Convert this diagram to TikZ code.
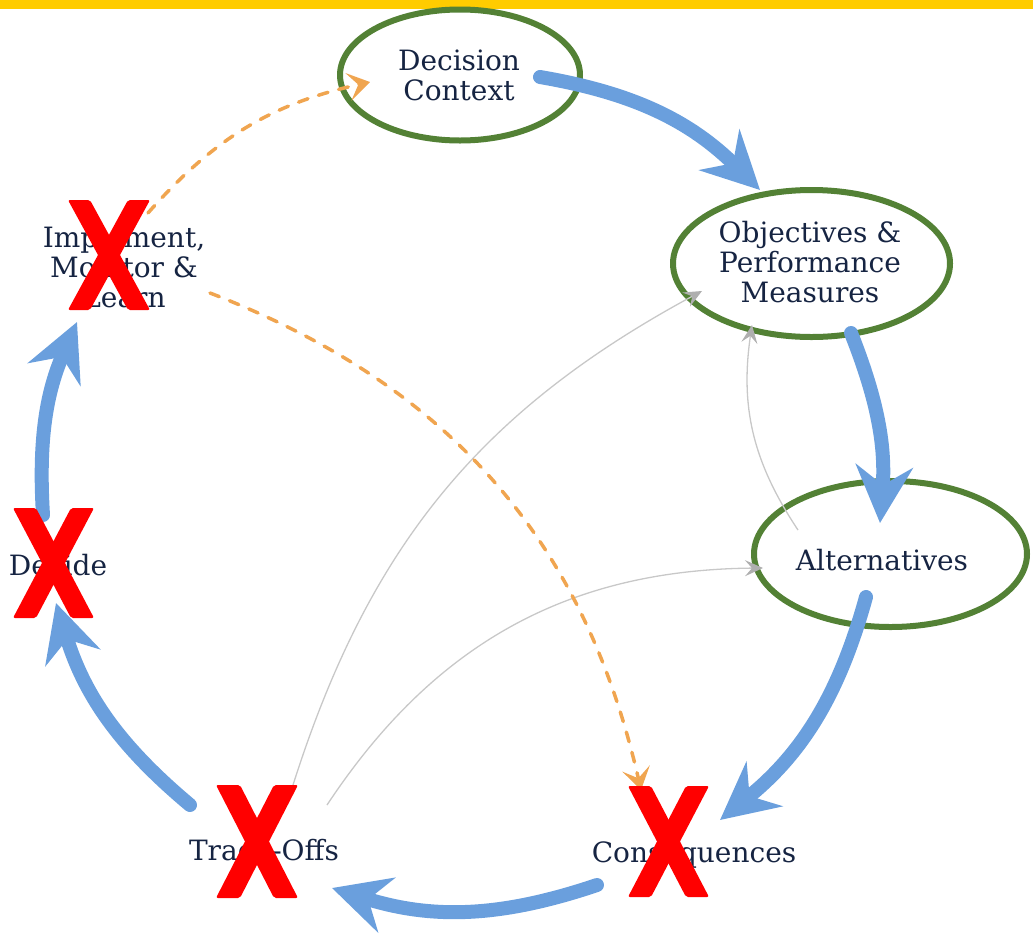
\documentclass[tikz,border=0pt]{standalone}
\usepackage{fontspec}
\setmainfont{DejaVu Serif}
\usetikzlibrary{arrows.meta,shapes.geometric}
\definecolor{blu}{RGB}{106,159,221}
\definecolor{grn}{RGB}{83,129,53}
\definecolor{org}{RGB}{240,165,80}
\definecolor{gry}{RGB}{200,200,200}
\definecolor{gryhead}{RGB}{175,175,175}
\definecolor{navy}{RGB}{22,36,66}
\definecolor{xred}{RGB}{255,0,0}
\definecolor{ylw}{RGB}{255,204,0}
\newcommand{\crossmark}[5]{% x0 y0 x1 y1 w
  \fill[xred,rounded corners=2pt] (#1,#2) -- ({#1+#5},#2) -- (#3,#4) -- ({#3-#5},#4) -- cycle;
  \fill[xred,rounded corners=2pt] ({#3-#5},#2) -- (#3,#2) -- ({#1+#5},#4) -- (#1,#4) -- cycle;}
\begin{document}
\begin{tikzpicture}[x=1pt,y=-1pt,
  ell/.style={ellipse,draw=grn,line width=6pt,inner sep=0pt},
  lbl/.style={text=navy,font=\fontsize{28}{30}\selectfont,align=center,inner sep=0pt},
  cyc/.style={draw=blu,line width=14pt,line cap=round,-{Stealth[length=57pt,width=57pt,inset=19pt]}},
  feed/.style={draw=org,line width=3.5pt,line cap=round,dash pattern=on 10pt off 11pt,-{Stealth[length=22pt,width=28pt,inset=10pt,line cap=butt]}},
  link/.style={draw=gry,line width=1.3pt,-{Stealth[length=18pt,width=16pt,inset=7pt,color=gryhead]}}]
\useasboundingbox (0,0) rectangle (1033,935);
\fill[ylw] (0,0) rectangle (1033,9);
% ellipses
\node[ell,minimum width=240pt,minimum height=131pt] (dc) at (460,75) {};
\node[ell,minimum width=277pt,minimum height=147pt] (obj) at (811.5,263.5) {};
\node[ell,minimum width=273pt,minimum height=146pt] (alt) at (890.5,554) {};
% labels
\node[lbl] (dct) at (459,75) {Decision\\Context};
\node[lbl] (objt) at (810,262) {Objectives \&\\Performance\\Measures};
\node[lbl] (altt) at (882,560) {Alternatives};
\node[lbl] (imp) at (124,267) {Implement,\\Monitor \&\\Learn};
\node[lbl] (dec) at (58,565) {Decide};
\node[lbl] (tro) at (264,850) {Trade-Offs};
\node[lbl] (con) at (694,855) {Consequences};
% connector end points
\coordinate (dcO) at (540,77);   \coordinate (objI) at (760,190);
\coordinate (objO) at (851,333); \coordinate (altI) at (880,523);
\coordinate (altO) at (866,597); \coordinate (conI) at (720,820);
\coordinate (conO) at (597,885); \coordinate (troI) at (332,888);
\coordinate (troO) at (190,805); \coordinate (decI) at (56,603);
\coordinate (decO) at (43,515);  \coordinate (impI) at (77,322);
\coordinate (impO1) at (148,213); \coordinate (dcI) at (370,82);
\coordinate (impO2) at (210,293); \coordinate (conI2) at (641,790);
\coordinate (troO1) at (293,785); \coordinate (objI2) at (702,291);
\coordinate (troO2) at (327,805); \coordinate (altI2) at (763,568);
\coordinate (altO2) at (798,530); \coordinate (objI3) at (752,325);
% grey links
\draw[link] (troO1) to[bend left=22] (objI2);
\draw[link] (troO2) to[bend left=28] (altI2);
\draw[link] (altO2) to[bend left=21] (objI3);
% orange feedback
\draw[feed] (impO1) to[bend left=18] (dcI);
\draw[feed] (impO2) to[bend left=28] (conI2);
% cycle
\draw[cyc] (dcO) to[bend left=17.5] (objI);
\draw[cyc] (objO) to[bend left=13] (altI);
\draw[cyc] (altO) to[bend left=17.8] (conI);
\draw[cyc] (conO) to[bend left=18] (troI);
\draw[cyc] (troO) to[bend left=16.5] (decI);
\draw[cyc] (decO) to[bend left=13.5] (impI);
% red crosses
\crossmark{68}{200}{150}{310}{22}
\crossmark{13}{508}{94}{618}{23}
\crossmark{216}{785}{298}{898}{24}
\crossmark{628}{786}{709}{897}{23}
\end{tikzpicture}
\end{document}
